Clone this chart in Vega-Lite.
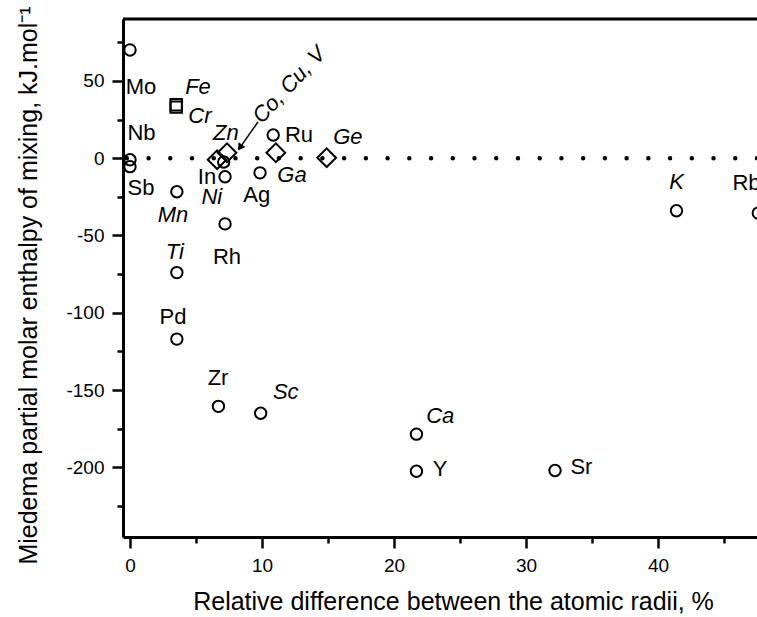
{
  "$schema": "https://vega.github.io/schema/vega-lite/v6.json",
  "width": 634,
  "height": 518,
  "autosize": {"type": "none"},
  "padding": {"left": 123, "top": 19, "right": 0, "bottom": 80},
  "background": "white",
  "config": {
    "view": {"stroke": null},
    "font": "Liberation Sans",
    "axis": {
      "grid": false,
      "domainColor": "black",
      "domainWidth": 3,
      "tickColor": "black",
      "tickWidth": 2.5,
      "labelColor": "black",
      "titleColor": "black",
      "labelFont": "Liberation Sans",
      "titleFont": "Liberation Sans",
      "labelFontSize": 19,
      "titleFontSize": 25,
      "titleFontWeight": "normal"
    }
  },
  "datasets": {
    "points": [
      {"el": "Mo", "x": 0, "y": 70, "shape": "circle"},
      {"el": "Nb", "x": 0, "y": -1, "shape": "circle"},
      {"el": "Sb", "x": 0, "y": -5.5, "shape": "circle"},
      {"el": "Fe", "x": 3.5, "y": 34.5, "shape": "square"},
      {"el": "Cr", "x": 3.5, "y": 33, "shape": "square"},
      {"el": "Mn", "x": 3.55, "y": -21.7, "shape": "circle"},
      {"el": "Ti", "x": 3.55, "y": -74, "shape": "circle"},
      {"el": "Pd", "x": 3.55, "y": -117, "shape": "circle"},
      {"el": "Zn", "x": 6.6, "y": -1, "shape": "diamond"},
      {"el": "Co, Cu, V", "x": 7.35, "y": 3.5, "shape": "diamond"},
      {"el": "In", "x": 7.1, "y": -2.5, "shape": "circle"},
      {"el": "Ni", "x": 7.2, "y": -12, "shape": "circle"},
      {"el": "Rh", "x": 7.2, "y": -42.5, "shape": "circle"},
      {"el": "Zr", "x": 6.7, "y": -160.5, "shape": "circle"},
      {"el": "Ag", "x": 9.85, "y": -9.5, "shape": "circle"},
      {"el": "Sc", "x": 9.9, "y": -165, "shape": "circle"},
      {"el": "Ru", "x": 10.85, "y": 15, "shape": "circle"},
      {"el": "Ga", "x": 11.05, "y": 3.5, "shape": "diamond"},
      {"el": "Ge", "x": 14.9, "y": 0.3, "shape": "diamond"},
      {"el": "Ca", "x": 21.7, "y": -178.5, "shape": "circle"},
      {"el": "Y", "x": 21.7, "y": -202.5, "shape": "circle"},
      {"el": "Sr", "x": 32.2, "y": -202, "shape": "circle"},
      {"el": "K", "x": 41.4, "y": -34, "shape": "circle"},
      {"el": "Rb", "x": 47.6, "y": -35.5, "shape": "circle"}
    ],
    "labels": [
      {"text": "Mo", "x": 0.83, "y": 46, "style": "normal"},
      {"text": "Nb", "x": 0.87, "y": 16.4, "style": "normal"},
      {"text": "Sb", "x": 0.83, "y": -19.5, "style": "normal"},
      {"text": "Fe", "x": 5.15, "y": 46.1, "style": "italic"},
      {"text": "Cr", "x": 5.3, "y": 27.4, "style": "italic"},
      {"text": "Zn", "x": 7.27, "y": 16.4, "style": "italic"},
      {"text": "In", "x": 5.83, "y": -12, "style": "normal"},
      {"text": "Ni", "x": 6.2, "y": -25, "style": "italic"},
      {"text": "Ag", "x": 9.6, "y": -23.7, "style": "normal"},
      {"text": "Ru", "x": 12.8, "y": 15, "style": "normal"},
      {"text": "Ga", "x": 12.27, "y": -10.6, "style": "italic"},
      {"text": "Ge", "x": 16.5, "y": 13.8, "style": "italic"},
      {"text": "Mn", "x": 3.26, "y": -36.6, "style": "italic"},
      {"text": "Ti", "x": 3.4, "y": -60.5, "style": "italic"},
      {"text": "Rh", "x": 7.35, "y": -63.6, "style": "normal"},
      {"text": "Pd", "x": 3.26, "y": -103, "style": "normal"},
      {"text": "Zr", "x": 6.67, "y": -142, "style": "normal"},
      {"text": "Sc", "x": 11.8, "y": -151.5, "style": "italic"},
      {"text": "Ca", "x": 23.5, "y": -167, "style": "italic"},
      {"text": "Y", "x": 23.5, "y": -201, "style": "normal"},
      {"text": "Sr", "x": 34.2, "y": -200, "style": "normal"},
      {"text": "K", "x": 41.4, "y": -15.2, "style": "italic"},
      {"text": "Rb", "x": 46.7, "y": -15.8, "style": "normal"}
    ],
    "arrow": [{"x": 9.7, "y": 23.5, "x2": 8.33, "y2": 6.8}],
    "note": [{"text": "Co, Cu, V", "x": 12.05, "y": 47.4}],
    "hlines": [{"y": 0}],
    "frame": [{"y": 90}]
  },
  "layer": [
    {
      "data": {"name": "points"},
      "transform": [{"filter": "datum.shape === 'circle'"}],
      "mark": {"type": "point", "shape": "circle", "size": 130, "filled": false, "stroke": "black", "strokeWidth": 2, "opacity": 1, "clip": true},
      "encoding": {
        "x": {
          "field": "x", "type": "quantitative",
          "scale": {"domain": [-0.53, 47.5], "nice": false, "zero": false},
          "axis": {
            "values": [0, 5, 10, 15, 20, 25, 30, 35, 40, 45],
            "labelExpr": "datum.value % 10 === 0 ? '' + datum.value : ''",
            "tickSize": {"condition": {"test": "datum.value % 10 === 0", "value": 11}, "value": 6},
            "labelPadding": 8,
            "title": "Relative difference between the atomic radii, %",
            "titleX": 330,
            "titleY": 72,
            "titleBaseline": "alphabetic"
          }
        },
        "y": {
          "field": "y", "type": "quantitative",
          "scale": {"domain": [-245, 90], "nice": false, "zero": false},
          "axis": {
            "values": [-225, -200, -175, -150, -125, -100, -75, -50, -25, 0, 25, 50, 75],
            "labelExpr": "datum.value % 50 === 0 ? '' + datum.value : ''",
            "tickSize": {"condition": {"test": "datum.value % 50 === 0", "value": 11}, "value": 6},
            "labelPadding": 8,
            "title": "Miedema partial molar enthalpy of mixing, kJ.mol⁻¹",
            "titleX": -87,
            "titleY": 266,
            "titleAngle": -90,
            "titleBaseline": "alphabetic"
          }
        }
      }
    },
    {
      "data": {"name": "points"},
      "transform": [{"filter": "datum.shape === 'square'"}],
      "mark": {"type": "point", "shape": "square", "size": 130, "filled": false, "stroke": "black", "strokeWidth": 2, "opacity": 1, "clip": true},
      "encoding": {
        "x": {"field": "x", "type": "quantitative"},
        "y": {"field": "y", "type": "quantitative"}
      }
    },
    {
      "data": {"name": "points"},
      "transform": [{"filter": "datum.shape === 'diamond'"}],
      "mark": {"type": "point", "shape": "diamond", "size": 350, "filled": false, "stroke": "black", "strokeWidth": 2, "opacity": 1, "clip": true},
      "encoding": {
        "x": {"field": "x", "type": "quantitative"},
        "y": {"field": "y", "type": "quantitative"}
      }
    },
    {
      "data": {"name": "hlines"},
      "mark": {"type": "rule", "strokeDash": [0, 21.73], "strokeCap": "round", "strokeWidth": 4.5, "color": "black"},
      "encoding": {"y": {"field": "y", "type": "quantitative"}}
    },
    {
      "data": {"name": "frame"},
      "mark": {"type": "rule", "strokeWidth": 3, "color": "black"},
      "encoding": {"y": {"field": "y", "type": "quantitative"}}
    },
    {
      "data": {"name": "labels"},
      "transform": [{"filter": "datum.style === 'normal'"}],
      "mark": {"type": "text", "align": "center", "baseline": "middle", "fontSize": 22, "font": "Liberation Sans", "color": "black"},
      "encoding": {
        "x": {"field": "x", "type": "quantitative"},
        "y": {"field": "y", "type": "quantitative"},
        "text": {"field": "text"}
      }
    },
    {
      "data": {"name": "labels"},
      "transform": [{"filter": "datum.style === 'italic'"}],
      "mark": {"type": "text", "align": "center", "baseline": "middle", "fontSize": 22, "fontStyle": "italic", "font": "Liberation Sans", "color": "black"},
      "encoding": {
        "x": {"field": "x", "type": "quantitative"},
        "y": {"field": "y", "type": "quantitative"},
        "text": {"field": "text"}
      }
    },
    {
      "data": {"name": "arrow"},
      "mark": {"type": "rule", "strokeWidth": 1.5, "color": "black"},
      "encoding": {
        "x": {"field": "x", "type": "quantitative"},
        "y": {"field": "y", "type": "quantitative"},
        "x2": {"field": "x2"},
        "y2": {"field": "y2"}
      }
    },
    {
      "data": {"name": "arrow"},
      "mark": {"type": "point", "shape": "triangle-down", "filled": true, "color": "black", "opacity": 1, "size": 70, "angle": 35},
      "encoding": {
        "x": {"field": "x2", "type": "quantitative"},
        "y": {"field": "y2", "type": "quantitative"}
      }
    },
    {
      "data": {"name": "note"},
      "mark": {"type": "text", "align": "center", "baseline": "middle", "fontSize": 22, "fontStyle": "italic", "angle": -47, "font": "Liberation Sans", "color": "black"},
      "encoding": {
        "x": {"field": "x", "type": "quantitative"},
        "y": {"field": "y", "type": "quantitative"},
        "text": {"field": "text"}
      }
    }
  ]
}
